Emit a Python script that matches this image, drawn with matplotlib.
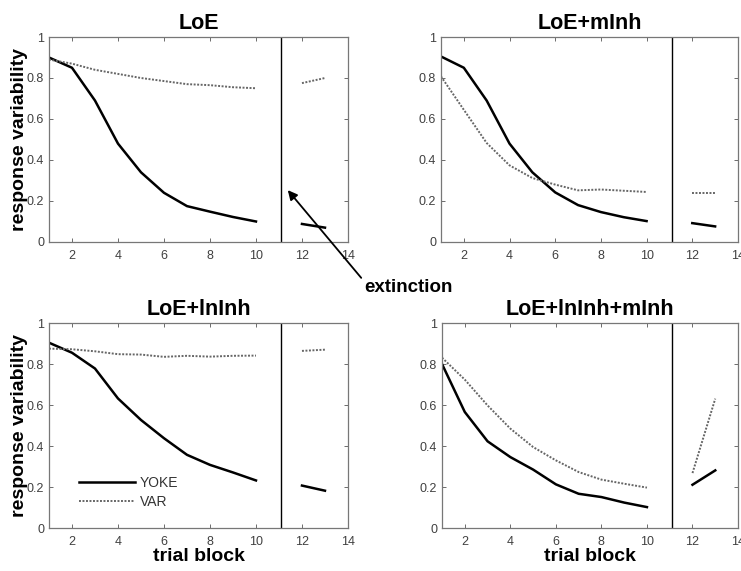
import numpy as np
import matplotlib

matplotlib.use("Agg")
import matplotlib.pyplot as plt

plt.rcParams["font.family"] = ["Liberation Sans", "DejaVu Sans"]

# trial blocks
blocks = np.arange(1, 11)
ext_blocks = np.array([12, 13])
ext_line = 11.1

titles = ["LoE", "LoE+mInh", "LoE+lnInh", "LoE+lnInh+mInh"]

yoke = [
    [0.90, 0.85, 0.69, 0.48, 0.34, 0.24, 0.175, 0.148, 0.122, 0.10],
    [0.905, 0.85, 0.69, 0.48, 0.34, 0.242, 0.18, 0.146, 0.121, 0.102],
    [0.904, 0.855, 0.778, 0.632, 0.527, 0.438, 0.357, 0.308, 0.271, 0.232],
    [0.80, 0.566, 0.423, 0.346, 0.285, 0.213, 0.167, 0.151, 0.124, 0.102],
]
var = [
    [0.89, 0.87, 0.84, 0.82, 0.80, 0.785, 0.77, 0.765, 0.755, 0.75],
    [0.808, 0.645, 0.483, 0.374, 0.312, 0.28, 0.252, 0.256, 0.25, 0.244],
    [0.875, 0.872, 0.862, 0.848, 0.846, 0.835, 0.84, 0.836, 0.84, 0.841],
    [0.831, 0.724, 0.598, 0.485, 0.395, 0.33, 0.273, 0.236, 0.216, 0.197],
]
yoke_ext = [[0.088, 0.070], [0.092, 0.076], [0.207, 0.182], [0.211, 0.281]]
var_ext = [[0.775, 0.80], [0.238, 0.238], [0.864, 0.870], [0.268, 0.631]]

fig = plt.figure(figsize=(7.41, 5.71), dpi=100)
positions = [
    [0.0661, 0.5762, 0.4035, 0.359],
    [0.5951, 0.5762, 0.4008, 0.359],
    [0.0661, 0.0753, 0.4035, 0.359],
    [0.5965, 0.0753, 0.3995, 0.359],
]
gray = "#555555"
axes = []
for i in range(4):
    ax = fig.add_axes(positions[i])
    axes.append(ax)
    l1, = ax.plot(blocks, yoke[i], color="black", lw=1.8, label="YOKE")
    l2, = ax.plot(blocks, var[i], color="#666666", lw=1.4, ls=(0, (1, 0.8)), label="VAR")
    ax.plot(ext_blocks, yoke_ext[i], color="black", lw=1.8)
    ax.plot(ext_blocks, var_ext[i], color="#666666", lw=1.4, ls=(0, (1, 0.8)))
    ax.axvline(ext_line, color="black", lw=1.0)
    ax.set_xlim(1, 14)
    ax.set_ylim(0, 1)
    ax.set_xticks([2, 4, 6, 8, 10, 12, 14])
    ax.set_yticks([0, 0.2, 0.4, 0.6, 0.8, 1])
    ax.set_yticklabels(["0", "0.2", "0.4", "0.6", "0.8", "1"])
    ax.tick_params(direction="in", top=True, right=True, labelsize=9,
                   colors=gray, length=3, width=0.6, labelcolor="#404040")
    ax.tick_params(axis="x", pad=6)
    for s in ax.spines.values():
        s.set_color("#777777")
        s.set_linewidth(0.9)
    ax.set_title(titles[i], fontsize=15.5, fontweight="bold", pad=6)
    if i in (0, 2):
        ax.set_ylabel("response variability", fontsize=14, fontweight="bold", labelpad=-1)
    if i in (2, 3):
        ax.set_xlabel("trial block", fontsize=14, fontweight="bold", labelpad=0)
    if i == 2:
        ax.legend(handles=[l1, l2], loc="lower left", bbox_to_anchor=(0.06, 0.03),
                  frameon=False, fontsize=10, handlelength=4.0, handletextpad=0.35,
                  labelspacing=0.4, labelcolor="#333333")

fig.text(364 / 741, 1 - 287 / 571, "extinction", fontsize=13.5, fontweight="bold",
         ha="left", va="center")
fig.add_artist(matplotlib.patches.FancyArrowPatch(
    (363 / 741, 1 - 280 / 571), (286 / 741, 1 - 188 / 571),
    transform=fig.transFigure, arrowstyle="-|>", mutation_scale=14,
    color="black", lw=1.3))

fig.savefig("out.png", dpi=100)
